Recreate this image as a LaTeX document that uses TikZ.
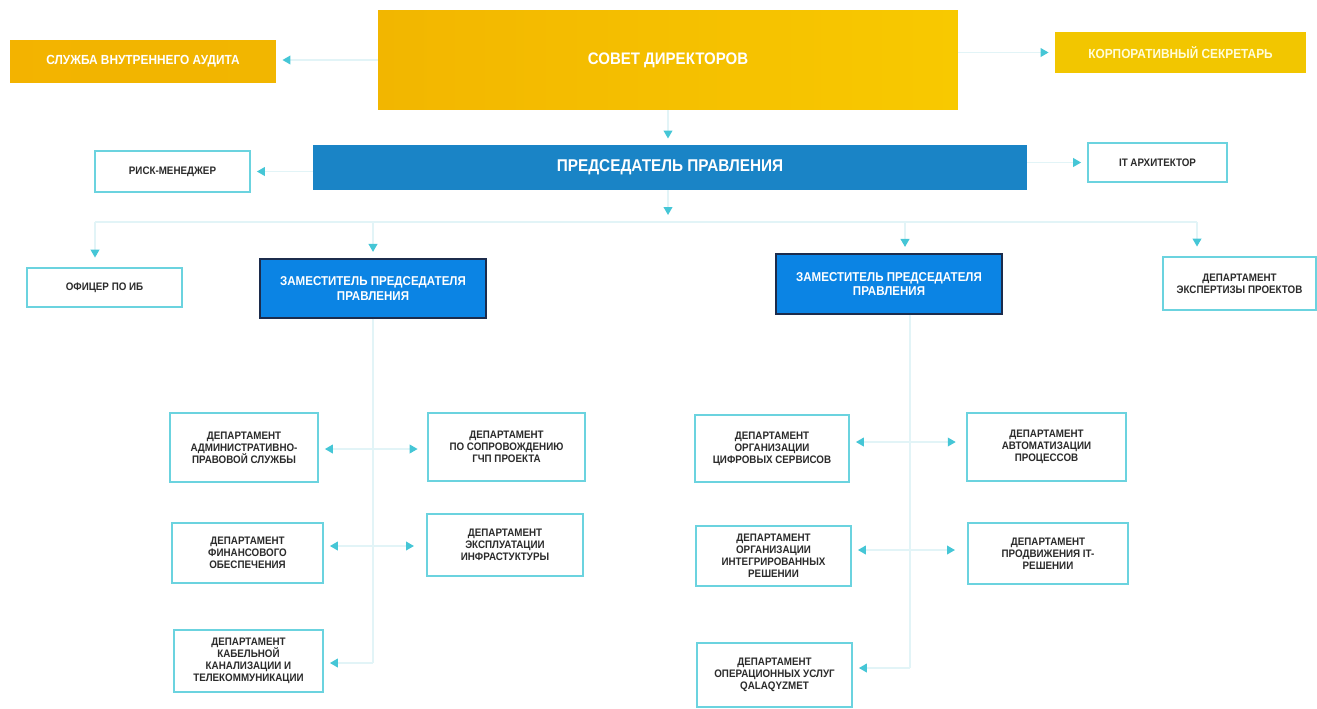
\documentclass[tikz,border=0pt]{standalone}
\usepackage{fontspec}
\setmainfont[FakeStretch=0.9]{Liberation Sans}
\usetikzlibrary{arrows.meta}

\definecolor{goldA}{HTML}{F2B600}
\definecolor{goldB}{HTML}{F8C900}
\definecolor{corpgold}{HTML}{F2C600}
\definecolor{chairblue}{HTML}{1A84C6}
\definecolor{deputyblue}{HTML}{0B84E4}
\definecolor{deputyedge}{HTML}{1C2C4C}
\definecolor{deptedge}{HTML}{6BD3DF}
\definecolor{tipcol}{HTML}{45C6D6}
\definecolor{linecol}{HTML}{E2F4F7}
\definecolor{depttext}{HTML}{2B2B2B}

\tikzset{
  board/.style={left color=goldA, right color=goldB, text=white, font=\fontsize{9.5}{11}\selectfont\bfseries, inner sep=0pt},
  goldbox/.style={fill=goldA, text=white, font=\fontsize{7.5}{8.5}\selectfont\bfseries, inner sep=0pt},
  chair/.style={fill=chairblue, text=white, font=\fontsize{9.7}{11}\selectfont\bfseries, inner sep=0pt},
  deputy/.style={fill=deputyblue, draw=deputyedge, line width=1.1pt, text=white, align=center, font=\fontsize{7.3}{8.2}\selectfont\bfseries, inner sep=0pt},
  dept/.style={draw=deptedge, line width=0.9pt, fill=white, text=depttext, align=center, font=\fontsize{6.2}{6.9}\selectfont\bfseries, inner sep=0pt},
  link/.style={draw=linecol, line width=0.7pt},
  arr/.style={link, -{Triangle[length=4.5pt,width=5pt,color=tipcol]}, shorten >=3.5pt},
}

\begin{document}
\begin{tikzpicture}[x=0.02cm, y=-0.02cm]
\useasboundingbox (0,0) rectangle (1317,708);

\node[board, minimum width=11.6cm, minimum height=2cm] (sovet) at (668,60) {СОВЕТ ДИРЕКТОРОВ};
\node[goldbox, left color=goldA!95!orange, right color=goldA, minimum width=5.32cm, minimum height=0.84cm] (audit) at (143,61) {СЛУЖБА ВНУТРЕННЕГО АУДИТА};
\node[goldbox, fill=corpgold, text=white!85!yellow, minimum width=5.02cm, minimum height=0.82cm] (corp) at (1180.5,52.5) {КОРПОРАТИВНЫЙ СЕКРЕТАРЬ};

\node[chair, minimum width=14.28cm, minimum height=0.9cm] (chair) at (670,167.5) {ПРЕДСЕДАТЕЛЬ ПРАВЛЕНИЯ};
\node[dept, minimum width=3.1cm, minimum height=0.82cm] (risk) at (172.5,171.5) {РИСК-МЕНЕДЖЕР};
\node[dept, minimum width=2.78cm, minimum height=0.78cm] (itarch) at (1157.5,162.5) {IT АРХИТЕКТОР};

\node[dept, minimum width=3.1cm, minimum height=0.78cm] (officer) at (104.5,287.5) {ОФИЦЕР ПО ИБ};
\node[deputy, minimum width=4.52cm, minimum height=1.18cm] (dep1) at (373,288.5) {ЗАМЕСТИТЕЛЬ ПРЕДСЕДАТЕЛЯ\\ПРАВЛЕНИЯ};
\node[deputy, minimum width=4.52cm, minimum height=1.2cm] (dep2) at (889,284) {ЗАМЕСТИТЕЛЬ ПРЕДСЕДАТЕЛЯ\\ПРАВЛЕНИЯ};
\node[dept, minimum width=3.06cm, minimum height=1.06cm] (expert) at (1239.5,283.5) {ДЕПАРТАМЕНТ\\ЭКСПЕРТИЗЫ ПРОЕКТОВ};

\node[dept, minimum width=2.96cm, minimum height=1.38cm] (legal) at (244,447.5) {ДЕПАРТАМЕНТ\\АДМИНИСТРАТИВНО-\\ПРАВОВОЙ СЛУЖБЫ};
\node[dept, minimum width=3.14cm, minimum height=1.36cm] (ppp) at (506.5,447) {ДЕПАРТАМЕНТ\\ПО СОПРОВОЖДЕНИЮ\\ГЧП ПРОЕКТА};
\node[dept, minimum width=3.02cm, minimum height=1.2cm] (fin) at (247.5,553) {ДЕПАРТАМЕНТ\\ФИНАНСОВОГО\\ОБЕСПЕЧЕНИЯ};
\node[dept, minimum width=3.12cm, minimum height=1.24cm] (infra) at (505,545) {ДЕПАРТАМЕНТ\\ЭКСПЛУАТАЦИИ\\ИНФРАСТУКТУРЫ};
\node[dept, minimum width=2.98cm, minimum height=1.24cm] (cable) at (248.5,661) {ДЕПАРТАМЕНТ\\КАБЕЛЬНОЙ\\КАНАЛИЗАЦИИ И\\ТЕЛЕКОММУНИКАЦИИ};

\node[dept, minimum width=3.08cm, minimum height=1.34cm] (digital) at (772,448.5) {ДЕПАРТАМЕНТ\\ОРГАНИЗАЦИИ\\ЦИФРОВЫХ СЕРВИСОВ};
\node[dept, minimum width=3.18cm, minimum height=1.36cm] (auto) at (1046.5,447) {ДЕПАРТАМЕНТ\\АВТОМАТИЗАЦИИ\\ПРОЦЕССОВ};
\node[dept, minimum width=3.1cm, minimum height=1.2cm] (integr) at (773.5,556) {ДЕПАРТАМЕНТ\\ОРГАНИЗАЦИИ\\ИНТЕГРИРОВАННЫХ\\РЕШЕНИИ};
\node[dept, minimum width=3.2cm, minimum height=1.22cm] (promo) at (1048,553.5) {ДЕПАРТАМЕНТ\\ПРОДВИЖЕНИЯ IT-\\РЕШЕНИИ};
\node[dept, minimum width=3.1cm, minimum height=1.28cm] (oper) at (774.5,675) {ДЕПАРТАМЕНТ\\ОПЕРАЦИОННЫХ УСЛУГ\\QALAQYZMET};

\coordinate (bus) at (668,222);
\coordinate (busL) at (95,222);
\coordinate (busR) at (1197,222);
\coordinate (b2) at (905,222);
\coordinate (l1) at (373,449);
\coordinate (l2) at (373,546);
\coordinate (l3) at (373,663);
\coordinate (r1) at (910,442);
\coordinate (r2) at (910,550);
\coordinate (r3) at (910,668);

\draw[arr] (sovet.west) -- (audit.east |- sovet.west);
\draw[arr] (sovet.east |- corp.west) -- (corp.west);
\draw[arr] (sovet.south) -- (sovet.south |- chair.north);
\draw[arr] (chair.west |- risk.east) -- (risk.east);
\draw[arr] (chair.east |- itarch.west) -- (itarch.west);
\draw[arr, shorten >=4pt] (bus |- chair.south) -- (bus);

\draw[link] (busL) -- (busR);
\draw[arr, shorten >=5.5pt] (busL) -- (busL |- officer.north);
\draw[arr] (dep1.north |- bus) -- (dep1.north);
\draw[arr] (b2) -- (b2 |- dep2.north);
\draw[arr, shorten >=5.5pt] (busR) -- (busR |- expert.north);

\draw[link] (dep1.south) -- (l3);
\draw[arr] (l1) -- (legal.east |- l1);
\draw[arr, shorten >=5.5pt] (l1) -- (ppp.west |- l1);
\draw[arr] (l2) -- (fin.east |- l2);
\draw[arr, shorten >=7pt] (l2) -- (infra.west |- l2);
\draw[arr] (l3) -- (cable.east |- l3);

\draw[link] (r1 |- dep2.south) -- (r3);
\draw[arr] (r1) -- (digital.east |- r1);
\draw[arr, shorten >=6pt] (r1) -- (auto.west |- r1);
\draw[arr] (r2) -- (integr.east |- r2);
\draw[arr, shorten >=7pt] (r2) -- (promo.west |- r2);
\draw[arr] (r3) -- (oper.east |- r3);
\end{tikzpicture}
\end{document}
